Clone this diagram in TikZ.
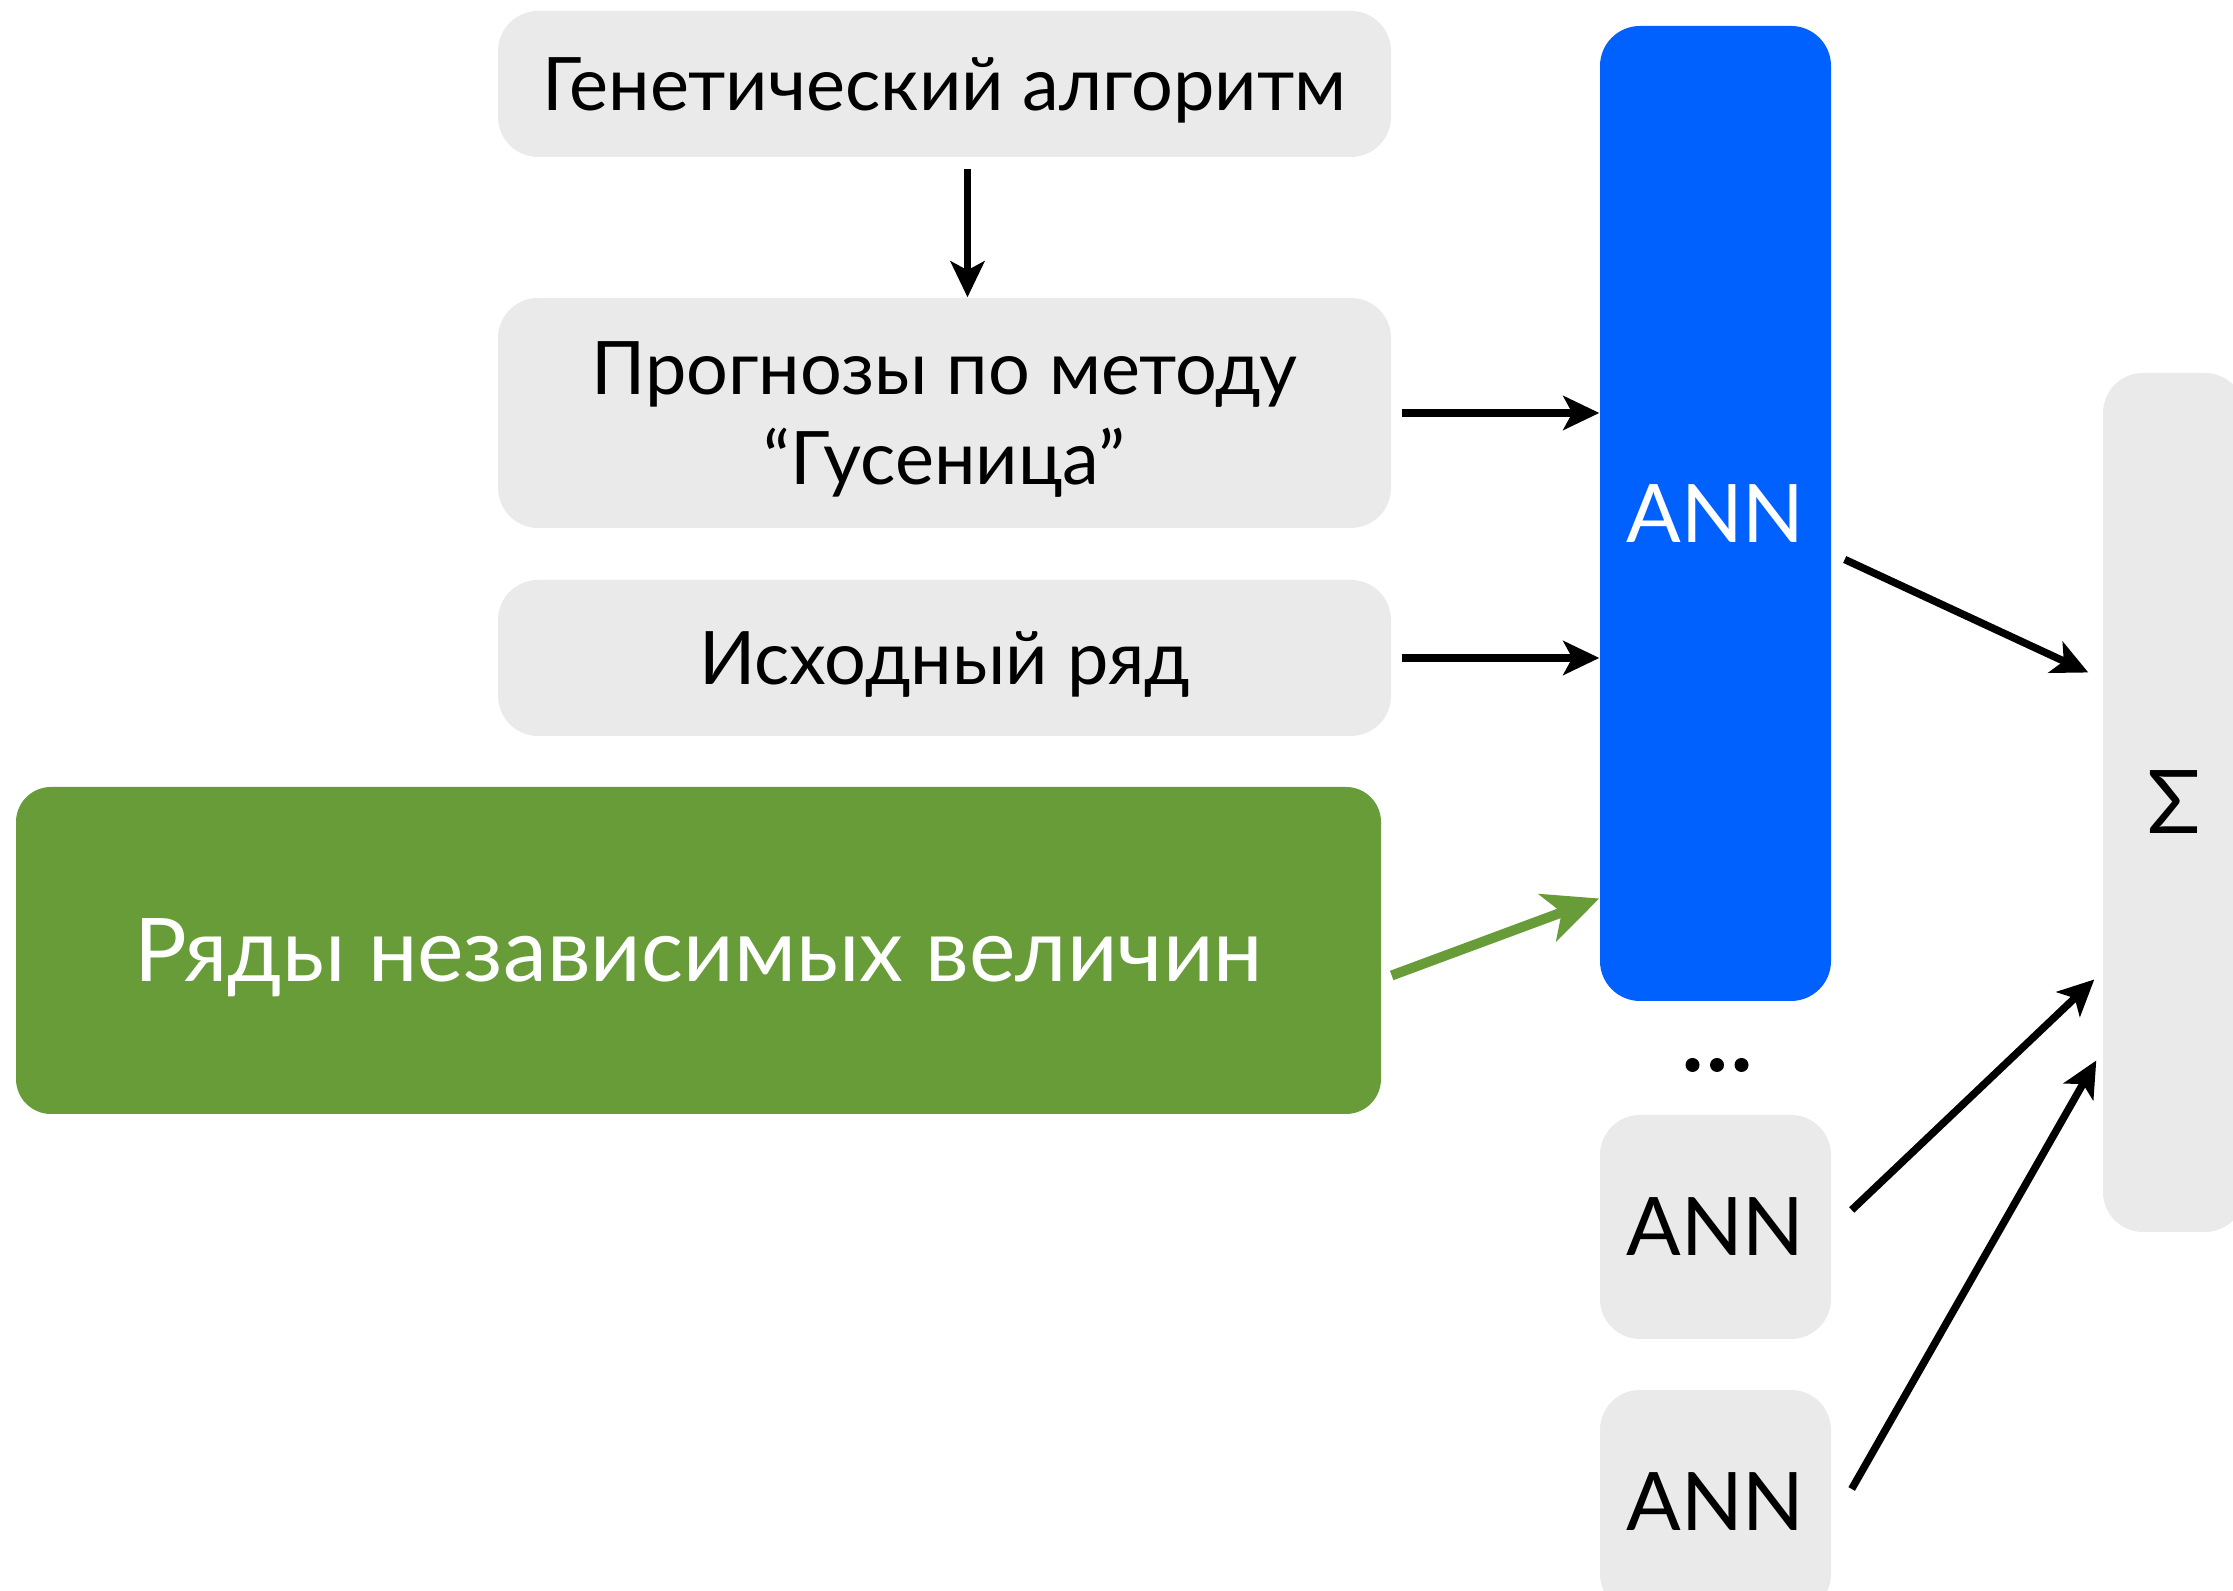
\documentclass[tikz,border=0pt]{standalone}
\usepackage{fontspec}
\setmainfont{Lato}
\usetikzlibrary{arrows.meta}

\begin{document}
\begin{tikzpicture}[
    box/.style={fill=boxgrey, rounded corners=4mm, inner sep=0pt, align=center,
      text depth=0pt, font=\fontsize{21}{25.5}\selectfont},
    annbox/.style={box, minimum width=2.31cm, minimum height=2.24cm,
      font=\fontsize{23}{27}\selectfont},
    arr/.style={line width=0.75mm, -{Stealth[length=3.6mm,width=3.4mm,inset=0.9mm]}},
    greenarr/.style={line width=1mm, draw=seriesgreen,
      -{Stealth[length=5.5mm,width=5mm,inset=1.5mm]}},
  ]
    % colours %
    \definecolor{boxgrey}{RGB}{234,234,234}
    \definecolor{annblue}{RGB}{0,97,255}
    \definecolor{seriesgreen}{RGB}{103,156,56}
    \clip (0,0) rectangle (22.33,15.91);

    % inputs %
    \node[box, minimum width=8.93cm, minimum height=1.46cm] (gen) at (9.445,15.07)
      {Генетический алгоритм};
    \node[box, minimum width=8.93cm, minimum height=2.30cm] (caterp) at (9.445,11.78)
      {Прогнозы по методу\\“Гусеница”};
    \node[box, minimum width=8.93cm, minimum height=1.56cm] (orig) at (9.445,9.33)
      {Исходный ряд};
    \node[box, fill=seriesgreen, text=white, rounded corners=3.5mm,
      minimum width=13.65cm, minimum height=3.27cm,
      font=\fontsize{25}{30}\selectfont] (indep) at (6.985,6.405)
      {Ряды независимых величин};

    % networks %
    \node[annbox, fill=annblue, text=white, minimum height=9.75cm] (annmain) at (17.155,10.775) {ANN};
    \coordinate (dots) at (17.17,5.26);
    \foreach \dx in {-2.45,0,2.45}
      \fill ([xshift=\dx mm]dots) circle (0.7mm);
    \node[annbox] (ann2) at (17.155,3.64) {ANN};
    \node[annbox] (ann3) at (17.155,0.89) {ANN};

    % sum %
    \node[box, minimum width=1.42cm, minimum height=8.59cm,
      font=\fontsize{25}{30}\selectfont] (sigma) at (21.74,7.885) {Σ};

    % arrows %
    \draw[arr] ([xshift=2.3mm,yshift=-1.1mm]gen.south) -- ([xshift=2.3mm]caterp.north);
    \draw[arr] ([xshift=1mm]caterp.east) -- (annmain.west |- caterp.east);
    \draw[arr] ([xshift=1mm]orig.east) -- (annmain.west |- orig.east);
    \draw[greenarr] ([xshift=1mm,yshift=-2.5mm]indep.east) -- ([yshift=-38.5mm]annmain.west);
    \draw[arr] ([xshift=1.3mm,yshift=-4.6mm]annmain.east) -- ([xshift=-1.4mm,yshift=13mm]sigma.west);
    \draw[arr] ([xshift=2mm,yshift=1.7mm]ann2.east) -- ([xshift=-0.8mm,yshift=-17.7mm]sigma.west);
    \draw[arr] ([xshift=2mm,yshift=1.3mm]ann3.east) -- ([xshift=-0.6mm,yshift=-25.8mm]sigma.west);
\end{tikzpicture}
\end{document}
